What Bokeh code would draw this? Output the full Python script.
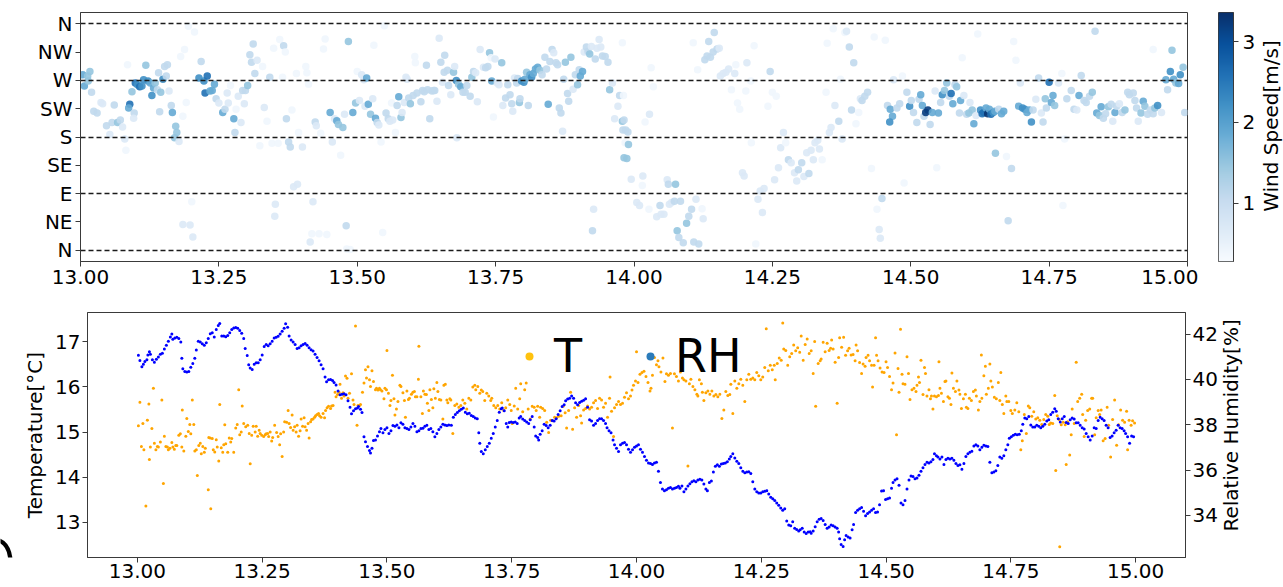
import math
import numpy as np
from bokeh.plotting import figure
from bokeh.models import (Range1d, LinearAxis, FixedTicker, LinearColorMapper,
                          ColumnDataSource, Legend, LegendItem, NumeralTickFormatter)
from bokeh.core.properties import value
from bokeh.layouts import column, row
from bokeh.palettes import Blues256
from bokeh.embed import file_html
from bokeh.resources import INLINE

FONT = "DejaVu Sans"

# ---------------- wind data (time [h], direction [deg], speed [m/s]) ----------------
wind_time = [
    13.004, 13.013, 13.007, 13.017, 13.014, 13.020, 13.024, 13.030, 13.037, 13.040,
    13.047, 13.053, 13.057, 13.061, 13.067, 13.072, 13.076, 13.080, 13.082, 13.085,
    13.089, 13.087, 13.093, 13.097, 13.096, 13.099, 13.103, 13.107, 13.111, 13.114,
    13.118, 13.122, 13.126, 13.129, 13.132, 13.135, 13.139, 13.141, 13.143, 13.145,
    13.149, 13.152, 13.155, 13.157, 13.160, 13.164, 13.166, 13.172, 13.174, 13.170,
    13.178, 13.185, 13.181, 13.188, 13.191, 13.195, 13.206, 13.201, 13.185, 13.198,
    13.203, 13.214, 13.218, 13.223, 13.225, 13.229, 13.234, 13.238, 13.242, 13.245,
    13.250, 13.257, 13.261, 13.265, 13.267, 13.271, 13.277, 13.279, 13.281, 13.285,
    13.290, 13.293, 13.296, 13.298, 13.302, 13.306, 13.309, 13.312, 13.315, 13.319,
    13.324, 13.329, 13.332, 13.337, 13.342, 13.346, 13.349, 13.352, 13.351, 13.357,
    13.360, 13.365, 13.367, 13.370, 13.372, 13.376, 13.379, 13.382, 13.385, 13.392,
    13.390, 13.394, 13.401, 13.407, 13.409, 13.412, 13.420, 13.415, 13.418, 13.424,
    13.426, 13.431, 13.434, 13.439, 13.442, 13.445, 13.451, 13.455, 13.459, 13.463,
    13.466, 13.470, 13.474, 13.477, 13.480, 13.484, 13.481, 13.487, 13.492, 13.497,
    13.500, 13.504, 13.508, 13.512, 13.514, 13.517, 13.520, 13.524, 13.528, 13.530,
    13.533, 13.536, 13.539, 13.543, 13.546, 13.549, 13.552, 13.556, 13.559, 13.562,
    13.564, 13.569, 13.572, 13.575, 13.579, 13.581, 13.585, 13.588, 13.590, 13.593,
    13.596, 13.601, 13.604, 13.605, 13.608, 13.615, 13.618, 13.621, 13.625, 13.627,
    13.631, 13.635, 13.638, 13.640, 13.644, 13.648, 13.651, 13.654, 13.657, 13.658,
    13.663, 13.665, 13.669, 13.674, 13.676, 13.679, 13.680, 13.683, 13.687, 13.691,
    13.695, 13.698, 13.704, 13.707, 13.710, 13.714, 13.717, 13.722, 13.728, 13.732,
    13.736, 13.739, 13.742, 13.743, 13.746, 13.749, 13.753, 13.756, 13.761, 13.763,
    13.768, 13.772, 13.776, 13.779, 13.781, 13.784, 13.788, 13.790, 13.793, 13.794,
    13.797, 13.801, 13.803, 13.806, 13.809, 13.812, 13.815, 13.818, 13.822, 13.826,
    13.830, 13.834, 13.839, 13.842, 13.845, 13.848, 13.852, 13.855, 13.859, 13.862,
    13.865, 13.868, 13.871, 13.873, 13.876, 13.880, 13.882, 13.886, 13.890, 13.894,
    13.898, 13.901, 13.903, 13.907, 13.910, 13.914, 13.917, 13.920, 13.923, 13.927,
    13.925, 13.930, 13.933, 13.937, 13.940, 13.943, 13.948, 13.953, 13.956, 13.961,
    13.965, 13.971, 13.974, 13.979, 13.980, 13.982, 13.984,
    13.979, 13.981, 13.982, 13.985, 13.989, 13.990, 13.987, 13.995, 14.005, 14.010,
    14.016, 14.015, 14.020, 14.028, 14.027, 14.031, 14.035, 14.041, 14.047, 14.049,
    14.054, 14.060, 14.062, 14.064, 14.068, 14.073, 14.075, 14.078, 14.081, 14.084,
    14.089, 14.095, 14.099, 14.104, 14.108, 14.112, 14.117, 14.123, 14.125, 14.115,
    14.107, 14.128, 14.132, 14.135, 14.138, 14.143, 14.145, 14.150, 14.154, 14.156,
    14.161, 14.166, 14.171, 14.176, 14.182, 14.184, 14.187, 14.191, 14.196, 14.199,
    14.202, 14.204, 14.211, 14.212, 14.217, 14.220, 14.224, 14.228, 14.232, 14.235,
    14.242, 14.246, 14.250, 14.254, 14.257, 14.261, 14.265, 14.270, 14.274, 14.279,
    14.284, 14.290, 14.294, 14.297, 14.303, 14.307, 14.312, 14.316, 14.320, 14.324,
    14.327, 14.332, 14.335, 14.340, 14.347, 14.349, 14.353, 14.356, 14.360, 14.363,
    14.370, 14.373, 14.376, 14.381, 14.384, 14.389, 14.393, 14.397, 14.401, 14.406,
    14.409, 14.412, 14.417, 14.422, 14.429, 14.434, 14.439, 14.443, 14.445, 14.448,
    14.454, 14.458, 14.463, 14.467, 14.462, 14.469, 14.475, 14.480, 14.485, 14.488,
    14.493, 14.498, 14.501, 14.505, 14.511, 14.515, 14.518, 14.521, 14.524, 14.527,
    14.531, 14.535, 14.539, 14.544, 14.547, 14.550, 14.554, 14.557, 14.561, 14.565,
    14.570, 14.573, 14.576, 14.580, 14.583, 14.588, 14.590, 14.593, 14.596, 14.601,
    14.605, 14.607, 14.611, 14.614, 14.618, 14.621, 14.626, 14.629, 14.632, 14.636,
    14.639, 14.642, 14.645, 14.649, 14.652, 14.653, 14.659, 14.664, 14.668, 14.673,
    14.676, 14.682, 14.686, 14.690, 14.695, 14.698, 14.702, 14.706, 14.710, 14.714,
    14.718, 14.721, 14.726, 14.731, 14.736, 14.739, 14.743, 14.745, 14.750, 14.754,
    14.757, 14.760, 14.767, 14.773, 14.775, 14.778, 14.782, 14.790, 14.795, 14.800,
    14.804, 14.808, 14.813, 14.817, 14.823, 14.828, 14.833, 14.836, 14.841, 14.844,
    14.848, 14.852, 14.857, 14.862, 14.865, 14.869, 14.872, 14.877, 14.882, 14.887,
    14.892, 14.895, 14.902, 14.905, 14.908, 14.911, 14.916, 14.920, 14.923, 14.928,
    14.933, 14.938, 14.941, 14.946, 14.953, 14.938, 14.961, 14.964, 14.969, 14.972,
    14.975, 14.979, 14.984, 14.987, 14.992, 14.995,
]
wind_dir = [
    279, 277, 261, 284, 269, 251, 221, 218, 235, 233,
    198, 184, 203, 231, 203, 207, 196, 177, 159, 295,
    232, 226, 252, 218, 210, 266, 263, 260, 261, 271,
    294, 269, 266, 246, 258, 266, 255, 282, 220, 251,
    272, 292, 277, 295, 253, 230, 219, 197, 187, 179,
    173, 213, 308, 319, 235, 356, 347, 77, 41, 40,
    21, 274, 300, 269, 250, 277, 253, 254, 264, 241,
    234, 219, 224, 250, 234, 262, 209, 187, 224, 245,
    203, 254, 233, 254, 262, 311, 299, 328, 281, 302,
    166, 292, 227, 205, 275, 170, 321, 73, 54, 170,
    335, 275, 325, 315, 209, 172, 164, 223, 101, 105,
    281, 187, 164, 292, 282, 264, 77, 13, 26, 204,
    198, 26, 186, 320, 336, 25, 219, 172, 209, 206,
    200, 151, 195, 216, 39, 332, 2, 1, 219, 234,
    284, 238, 279, 271, 229, 274, 232, 216, 241, 326,
    210, 203, 199, 172, 28, 357, 218, 209, 205, 234,
    207, 187, 230, 244, 211, 219, 235, 275, 272, 242,
    233, 246, 308, 298, 250, 236, 254, 252, 294, 255,
    209, 253, 254, 254, 237, 337, 299, 267, 283, 310,
    286, 262, 247, 283, 292, 270, 179, 264, 260, 251,
    251, 262, 245, 275, 284, 282, 236, 319, 291, 290,
    292, 314, 306, 269, 212, 304, 266, 263, 298, 230,
    242, 263, 247, 233, 221, 274, 266, 273, 235, 241,
    269, 267, 272, 283, 230, 279, 275, 281, 288, 291,
    286, 279, 307, 288, 232, 300, 319, 314, 298, 295,
    226, 218, 189, 272, 299, 249, 237, 307, 256, 279,
    263, 287, 277, 284, 315, 323, 316, 312, 324, 65,
    31, 304, 321, 335, 323, 309, 308, 299, 255, 266,
    209, 229, 246, 205, 191, 147, 171,
    330, 246, 207, 191, 188, 168, 146, 113, 76, 71,
    118, 103, 204, 216, 65, 290, 260, 53, 71, 57,
    57, 112, 105, 73, 76, 78, 105, 31, 20, 78,
    12, 43, 54, 65, 13, 81, 10, 66, 50, 287,
    330, 303, 309, 332, 307, 315, 346, 320, 321, 277,
    281, 283, 288, 255, 281, 295, 234, 224, 123, 118,
    253, 298, 269, 171, 325, 10, 81, 94, 60, 98,
    229, 284, 251, 112, 245, 131, 163, 187, 171, 144,
    139, 123, 110, 128, 139, 117, 155, 122, 159, 144,
    171, 175, 161, 144, 251, 329, 187, 195, 352, 230,
    205, 272, 177, 346, 348, 323, 223, 298, 201, 219,
    241, 238, 245, 251, 130, 339, 65, 33, 19, 82,
    334, 230, 224, 213, 204, 271, 226, 233, 277, 107,
    251, 229, 238, 219, 203, 240, 247, 230, 213, 219,
    223, 200, 219, 253, 131, 218, 235, 247, 254, 266,
    245, 249, 233, 263, 260, 218, 238, 306, 246, 216,
    218, 235, 223, 201, 214, 344, 223, 217, 219, 226,
    217, 224, 216, 219, 221, 154, 224, 217, 221, 149,
    47, 130, 332, 302, 229, 266, 226, 224, 219, 223,
    204, 223, 240, 274, 218, 204, 241, 226, 267, 235,
    246, 230, 266, 281, 71, 177, 241, 254, 224, 223,
    246, 278, 238, 235, 245, 251, 348, 218, 214, 228,
    210, 217, 228, 232, 205, 219, 229, 233, 219, 223,
    251, 247, 250, 238, 226, 205, 218, 237, 229, 216,
    223, 217, 226, 230, 219, 319, 271, 255, 284, 318,
    272, 266, 265, 279, 291, 219,
]
wind_speed = [
    1.88, 1.5, 1.88, 1.5, 1.5, 1.1, 1.1, 1.1, 0.72, 0.72,
    1.1, 0.72, 1.1, 1.1, 1.5, 1.1, 0.72, 0.72, 0.4, 0.4,
    2.6, 1.88, 1.5, 1.1, 0.72, 2.6, 2.22, 2.6, 2.22, 2.22,
    1.5, 2.22, 1.88, 2.22, 1.88, 1.5, 1.1, 1.1, 1.1, 1.5,
    2.22, 1.1, 1.1, 1.1, 0.72, 1.1, 1.88, 1.5, 1.5, 1.5,
    0.72, 0.4, 0.4, 0.4, 0.4, 0.4, 0.4, 0.4, 0.72, 0.72,
    0.72, 2.22, 1.1, 2.22, 2.6, 2.6, 1.88, 1.88, 1.88, 1.1,
    0.72, 1.88, 1.1, 0.72, 0.72, 0.4, 1.88, 1.1, 0.4, 0.72,
    0.72, 1.1, 0.72, 1.1, 1.5, 1.1, 1.1, 1.1, 1.1, 0.72,
    0.4, 0.4, 0.72, 0.4, 1.1, 0.4, 0.4, 0.72, 0.72, 0.4,
    0.4, 0.4, 1.1, 0.4, 1.1, 1.1, 1.1, 0.4, 0.72, 0.72,
    0.4, 0.4, 0.72, 0.4, 0.4, 0.4, 0.72, 0.72, 0.4, 1.1,
    0.72, 0.4, 0.4, 0.4, 0.4, 0.4, 1.88, 0.72, 0.72, 1.88,
    1.5, 0.4, 1.5, 0.72, 1.1, 1.5, 0.4, 0.4, 1.88, 1.5,
    0.4, 0.72, 0.72, 0.72, 0.72, 1.88, 1.88, 1.5, 0.72, 0.4,
    1.88, 1.1, 0.72, 0.4, 0.4, 0.4, 1.1, 1.1, 0.72, 0.4,
    0.72, 0.4, 1.1, 1.88, 1.5, 0.72, 0.72, 0.72, 0.72, 1.1,
    1.5, 1.1, 0.4, 0.4, 1.1, 1.1, 1.1, 1.1, 1.1, 1.1,
    1.1, 1.1, 1.1, 1.1, 0.72, 0.72, 1.1, 0.72, 1.1, 1.1,
    1.1, 1.1, 0.72, 1.5, 0.72, 2.22, 0.72, 1.5, 1.88, 1.1,
    1.1, 1.1, 1.1, 1.5, 1.1, 0.72, 0.72, 0.72, 0.72, 1.1,
    1.1, 1.5, 0.4, 1.88, 0.4, 0.72, 0.72, 0.72, 1.5, 0.72,
    1.1, 1.1, 1.1, 1.1, 0.72, 0.72, 1.1, 1.1, 1.5, 1.1,
    2.22, 2.22, 1.88, 1.5, 1.1, 1.88, 2.22, 1.88, 1.88, 1.88,
    1.5, 1.1, 1.1, 1.1, 1.88, 1.1, 1.1, 0.72, 1.1, 1.1,
    1.1, 1.1, 0.72, 1.1, 1.5, 1.1, 1.1, 1.5, 0.72, 1.1,
    1.5, 1.1, 1.88, 1.88, 0.72, 1.1, 1.1, 1.5, 0.72, 0.72,
    1.1, 1.1, 0.72, 0.72, 0.72, 1.1, 1.1, 1.1, 1.5, 0.72,
    0.72, 0.72, 1.1, 1.5, 1.1, 1.5, 0.4,
    0.4, 0.4, 1.1, 1.1, 1.1, 1.5, 1.5, 0.72, 0.72, 0.72,
    0.72, 0.4, 0.4, 0.72, 0.4, 0.4, 0.4, 0.72, 1.1, 0.72,
    0.72, 0.72, 1.1, 0.72, 0.72, 1.1, 1.5, 1.5, 1.1, 1.1,
    1.1, 1.5, 1.1, 1.1, 1.1, 0.72, 1.1, 0.4, 0.72, 0.4,
    0.4, 1.1, 1.1, 1.1, 1.1, 1.1, 1.1, 1.1, 0.72, 0.72,
    0.72, 0.72, 0.72, 0.4, 0.72, 0.4, 0.4, 0.4, 0.72, 0.72,
    0.4, 0.72, 0.4, 0.4, 0.4, 0.4, 0.72, 0.72, 0.72, 0.72,
    0.4, 1.1, 0.4, 0.72, 0.4, 0.72, 0.72, 0.72, 0.4, 1.1,
    0.72, 0.72, 0.72, 1.1, 1.1, 0.72, 0.72, 1.1, 0.72, 0.72,
    0.72, 0.72, 0.72, 0.4, 0.4, 0.4, 0.72, 0.72, 0.4, 0.72,
    1.1, 0.4, 0.72, 0.4, 0.72, 1.1, 1.1, 1.1, 0.4, 0.4,
    0.72, 1.1, 1.1, 1.1, 0.4, 0.4, 0.4, 0.72, 0.72, 1.1,
    0.4, 1.1, 1.88, 1.88, 2.22, 0.72, 1.1, 1.1, 0.4, 0.4,
    1.1, 2.22, 1.1, 1.1, 1.1, 1.1, 1.88, 1.88, 1.1, 3.2,
    3.2, 1.1, 1.88, 0.72, 0.4, 1.88, 1.1, 2.22, 1.5, 1.5,
    1.1, 2.6, 1.88, 1.1, 1.5, 1.1, 1.88, 0.4, 0.72, 1.1,
    1.5, 0.72, 1.5, 1.88, 0.72, 0.4, 2.22, 2.6, 2.6, 1.88,
    3.3, 1.88, 2.6, 2.22, 1.88, 1.5, 1.1, 1.88, 1.88, 0.4,
    1.1, 1.1, 0.4, 0.4, 1.88, 0.72, 2.22, 2.22, 1.88, 1.88,
    2.22, 1.1, 0.72, 1.1, 0.72, 1.1, 1.5, 1.1, 2.6, 1.88,
    1.88, 1.5, 0.72, 0.4, 0.4, 0.4, 1.1, 1.1, 1.1, 0.72,
    1.88, 1.1, 1.1, 1.1, 1.1, 1.5, 1.1, 1.88, 1.5, 1.88,
    1.1, 1.1, 1.5, 1.1, 0.72, 1.88, 1.1, 0.72, 1.1, 1.5,
    1.1, 1.1, 1.1, 1.1, 1.1, 0.72, 1.5, 1.88, 1.5, 1.1,
    1.1, 1.1, 1.5, 2.22, 0.72, 0.4, 1.88, 1.1, 2.22, 1.5,
    1.88, 1.5, 1.88, 2.22, 1.5, 1.1,
]

# ---------------- relative humidity (time [h], RH [%]) ----------------
rh_time = [
    13.002, 13.005, 13.009, 13.012, 13.015, 13.019, 13.021, 13.024, 13.026, 13.030,
    13.034, 13.038, 13.042, 13.046, 13.050, 13.054, 13.058, 13.062, 13.066, 13.069,
    13.071, 13.075, 13.079, 13.083, 13.087, 13.089, 13.091, 13.095, 13.099, 13.103,
    13.107, 13.111, 13.115, 13.118, 13.122, 13.126, 13.130, 13.134, 13.138, 13.142,
    13.146, 13.150, 13.154, 13.158, 13.162, 13.165, 13.169, 13.173, 13.177, 13.181,
    13.185, 13.189, 13.193, 13.197, 13.201, 13.205, 13.209, 13.213, 13.216, 13.220,
    13.223, 13.226, 13.230, 13.234, 13.238, 13.242, 13.246, 13.250, 13.254, 13.258,
    13.262, 13.266, 13.270, 13.274, 13.278, 13.282, 13.286, 13.290, 13.294, 13.297,
    13.301, 13.304, 13.308, 13.312, 13.316, 13.320, 13.324, 13.328, 13.332, 13.336,
    13.340, 13.344, 13.348, 13.352, 13.356, 13.360, 13.364, 13.368, 13.372, 13.376,
    13.379, 13.383, 13.387, 13.391, 13.394, 13.398, 13.402, 13.406, 13.410, 13.414,
    13.418, 13.422, 13.426, 13.429, 13.433, 13.437, 13.441, 13.443, 13.447, 13.450,
    13.454, 13.457, 13.461, 13.465, 13.467, 13.470, 13.473, 13.477, 13.481, 13.485,
    13.488, 13.492, 13.496, 13.500, 13.504, 13.508, 13.512, 13.516, 13.520, 13.524,
    13.528, 13.532, 13.536, 13.540, 13.544, 13.548, 13.552, 13.556, 13.560, 13.564,
    13.568, 13.572, 13.576, 13.580, 13.584, 13.588, 13.592, 13.596, 13.600, 13.604,
    13.608, 13.612, 13.616, 13.620, 13.624,
    13.629, 13.633, 13.637, 13.641, 13.645, 13.649, 13.653, 13.657, 13.661, 13.665,
    13.669, 13.673, 13.677, 13.681, 13.684, 13.686, 13.689, 13.693, 13.697, 13.701,
    13.705, 13.709, 13.713, 13.717, 13.721, 13.725, 13.729, 13.731, 13.735, 13.739,
    13.742, 13.745, 13.749, 13.753, 13.757, 13.761, 13.765, 13.768, 13.772, 13.776,
    13.780, 13.784, 13.787, 13.791, 13.795, 13.798, 13.802, 13.804, 13.807, 13.811,
    13.815, 13.819, 13.823, 13.827, 13.831, 13.835, 13.839, 13.843, 13.847, 13.851,
    13.855, 13.858, 13.862, 13.866, 13.870, 13.874, 13.878, 13.882, 13.886, 13.890,
    13.894, 13.898, 13.902, 13.906, 13.910, 13.914, 13.918, 13.922, 13.926, 13.930,
    13.934, 13.938, 13.941, 13.945, 13.949, 13.953, 13.956, 13.960, 13.964, 13.968,
    13.972, 13.976, 13.980, 13.984, 13.988, 13.992, 13.996, 14.000, 14.004, 14.008,
    14.012, 14.016, 14.020, 14.024, 14.028, 14.032, 14.036, 14.040, 14.044, 14.048,
    14.052, 14.056, 14.060, 14.064, 14.068, 14.072, 14.076, 14.080, 14.084, 14.087,
    14.091, 14.095, 14.099, 14.103, 14.107, 14.111, 14.115, 14.119, 14.123, 14.127,
    14.131, 14.135, 14.139, 14.142, 14.146, 14.150, 14.154, 14.158, 14.162, 14.166,
    14.170, 14.174, 14.178, 14.182, 14.186, 14.189, 14.193, 14.197, 14.201, 14.205,
    14.209, 14.213, 14.217, 14.221, 14.225, 14.229, 14.233, 14.237, 14.241, 14.245,
    14.249, 14.253, 14.257, 14.261, 14.265, 14.269, 14.273, 14.277, 14.281, 14.285,
    14.289, 14.293, 14.297, 14.301, 14.305, 14.309, 14.313, 14.317, 14.321, 14.325,
    14.328, 14.332, 14.336, 14.340, 14.344, 14.348,
    14.350, 14.354, 14.358, 14.362, 14.366, 14.370, 14.374, 14.378, 14.382, 14.386,
    14.390, 14.394, 14.398, 14.402, 14.405, 14.407, 14.410, 14.414, 14.417, 14.420,
    14.424, 14.428, 14.432, 14.435, 14.439, 14.443, 14.447, 14.451, 14.455, 14.459,
    14.463, 14.467, 14.471, 14.475, 14.479, 14.483, 14.487, 14.491, 14.495, 14.499,
    14.503, 14.507, 14.511, 14.514, 14.518, 14.522, 14.526, 14.530, 14.534, 14.538,
    14.542, 14.546, 14.550, 14.554, 14.558, 14.562, 14.566, 14.570, 14.574, 14.578,
    14.582, 14.586, 14.590, 14.594, 14.597, 14.601, 14.604, 14.608, 14.612, 14.616,
    14.620, 14.624, 14.628, 14.632, 14.636, 14.640, 14.644, 14.648, 14.652, 14.656,
    14.660, 14.664, 14.668, 14.672, 14.676, 14.680, 14.684, 14.688, 14.692, 14.696,
    14.700, 14.704, 14.708, 14.712, 14.716, 14.720, 14.724, 14.728, 14.732, 14.736,
    14.740, 14.744, 14.747, 14.751, 14.755, 14.759, 14.763, 14.767, 14.771, 14.774,
    14.778, 14.782, 14.786, 14.790, 14.794, 14.798, 14.802, 14.806, 14.810, 14.814,
    14.818, 14.822, 14.826, 14.830, 14.834, 14.838, 14.841, 14.845, 14.849, 14.853,
    14.857, 14.861, 14.865, 14.869, 14.873, 14.877, 14.881, 14.885, 14.889, 14.893,
    14.897, 14.901, 14.905, 14.909, 14.913, 14.917, 14.921, 14.925, 14.929, 14.933,
    14.937, 14.941, 14.945, 14.949, 14.953, 14.957, 14.961, 14.965, 14.969, 14.973,
    14.977, 14.980, 14.984, 14.988, 14.992, 14.996,
]
rel_humidity = [
    41.06, 40.83, 40.56, 40.67, 40.79, 40.86, 41.08, 41.22, 41.11, 40.86,
    40.76, 40.89, 40.99, 41.11, 41.15, 41.34, 41.51, 41.68, 41.87, 42.00,
    41.77, 41.83, 41.86, 41.80, 41.65, 40.93, 40.47, 40.35, 40.33, 40.35,
    40.53, 40.70, 40.93, 41.29, 41.68, 41.65, 41.57, 41.51, 41.62, 41.80,
    42.01, 42.06, 41.87, 42.20, 42.38, 42.46, 41.91, 41.91, 41.88, 41.94,
    42.06, 42.20, 42.27, 42.29, 42.26, 42.16, 42.03, 41.80, 41.36, 41.05,
    40.64, 40.50, 40.43, 40.67, 40.73, 40.73, 40.86, 41.08, 41.45, 41.54,
    41.48, 41.57, 41.68, 41.83, 41.86, 41.90, 42.00, 42.12, 42.26, 42.45,
    42.30, 41.91, 41.74, 41.65, 41.54, 41.36, 41.39, 41.48, 41.54, 41.58,
    41.51, 41.39, 41.31, 41.25, 41.11, 40.96, 40.82, 40.64, 40.47, 40.10,
    39.89, 39.98, 39.99, 39.95, 39.86, 39.75, 39.49, 39.32, 39.34, 39.37,
    39.32, 39.06, 38.77, 38.48, 38.62, 38.70, 38.74, 38.80, 38.68, 38.54,
    37.47, 37.25, 37.04, 36.86, 36.75, 36.96, 37.30, 37.32, 37.50, 37.69,
    37.83, 37.64, 37.79, 37.87, 37.61, 37.73, 37.96, 37.93, 37.99, 37.87,
    38.08, 38.02, 37.87, 37.83, 37.79, 37.90, 38.05, 37.93, 37.69, 37.73,
    37.83, 37.84, 37.93, 37.97, 37.79, 37.83, 37.69, 37.47, 37.61, 37.79,
    37.90, 38.02, 37.99, 37.96, 37.99,
    37.97, 38.33, 38.45, 38.54, 38.62, 38.68, 38.74, 38.55, 38.48, 38.50,
    38.41, 38.36, 38.30, 38.26, 37.64, 37.18, 36.82, 36.72, 36.89, 37.04,
    37.18, 37.40, 37.61, 37.90, 38.19, 38.55, 38.70, 38.74, 38.62, 38.05,
    37.90, 38.10, 38.12, 38.10, 38.12, 38.05, 38.30, 38.36, 38.25, 38.19,
    38.12, 38.05, 38.22, 38.36, 37.90, 37.50, 37.44, 37.32, 37.58, 37.73,
    38.02, 37.96, 37.87, 37.97, 38.19, 38.16, 38.26, 38.45, 38.62, 38.80,
    38.88, 39.06, 39.13, 39.17, 39.27, 39.17, 38.97, 38.88, 38.98, 39.03,
    39.08, 39.14, 38.77, 38.22, 38.16, 37.97, 38.05, 38.19, 38.26, 38.26,
    38.19, 38.05, 37.87, 37.73, 37.64, 37.32, 37.11, 36.96, 36.82, 37.11,
    37.18, 37.21, 37.11, 36.92, 36.78, 36.89, 37.01, 37.06, 37.11, 36.92,
    36.78, 36.60, 36.43, 36.31, 36.29, 36.24, 36.31, 36.34, 35.95, 35.45,
    35.16, 35.09, 35.13, 35.19, 35.23, 35.16, 35.19, 35.23, 35.28, 35.19,
    35.30, 35.04, 35.16, 35.30, 35.39, 35.48, 35.53, 35.48, 35.56, 35.59,
    35.56, 35.38, 35.16, 35.09, 35.45, 35.52, 35.91, 36.17, 36.23, 36.17,
    36.26, 36.29, 36.31, 36.37, 36.49, 36.60, 36.72, 36.53, 36.39, 36.29,
    36.10, 35.95, 35.88, 35.91, 35.92, 35.85, 35.48, 35.16, 35.04, 34.99,
    34.99, 35.04, 35.06, 35.09, 34.94, 34.80, 34.73, 34.65, 34.55, 34.44,
    34.32, 34.22, 34.29, 33.75, 33.57, 33.54, 33.72, 33.43, 33.37, 33.31,
    33.36, 33.43, 33.26, 33.20, 33.26, 33.28,
    33.21, 33.31, 33.50, 33.72, 33.83, 33.86, 33.77, 33.60, 33.43, 33.49,
    33.57, 33.54, 33.49, 33.43, 33.26, 32.97, 32.71, 32.63, 32.92, 33.11,
    33.05, 33.00, 33.36, 33.60, 34.12, 34.22, 34.29, 34.35, 34.18, 33.98,
    34.08, 34.15, 34.22, 34.29, 34.12, 34.15, 34.47, 35.07, 35.09, 34.70,
    34.73, 34.76, 35.19, 35.45, 35.56, 35.62, 35.33, 34.55, 34.47, 34.65,
    35.16, 35.56, 35.74, 35.71, 35.62, 35.65, 35.77, 35.95, 36.10, 36.24,
    36.34, 36.31, 36.37, 36.46, 36.72, 36.63, 36.57, 36.49, 36.57, 36.24,
    36.46, 36.52, 36.49, 36.52, 36.43, 36.29, 36.20, 36.23, 36.03, 36.29,
    36.60, 36.72, 36.78, 36.83, 37.06, 37.11, 37.06, 36.89, 37.01, 37.09,
    37.06, 37.04, 36.34, 35.88, 35.91, 35.97, 36.20, 36.57, 36.52, 36.63,
    36.89, 37.11, 37.40, 37.47, 37.53, 37.58, 37.56, 37.58, 37.73, 38.02,
    38.30, 38.26, 38.36, 37.99, 37.90, 37.90, 37.97, 37.93, 37.87, 37.93,
    38.02, 38.16, 38.22, 38.45, 38.55, 38.70, 38.59, 38.26, 38.12, 38.26,
    38.36, 38.10, 38.05, 38.22, 38.30, 38.25, 38.08, 38.08, 37.97, 37.87,
    37.81, 37.61, 37.47, 37.32, 37.50, 37.87, 37.83, 38.19, 38.33, 38.26,
    38.19, 37.97, 37.87, 37.44, 37.50, 37.64, 37.76, 37.97, 37.87, 37.83,
    37.73, 37.61, 37.47, 37.18, 37.50, 37.47,
]

# ---------------- temperature (time [h], T [deg C]) ----------------
temp_time = [
    13.002, 13.005, 13.008, 13.011, 13.013, 13.017, 13.020, 13.023, 13.024, 13.026,
    13.029, 13.032, 13.034, 13.037, 13.040, 13.042, 13.046, 13.049, 13.052, 13.054,
    13.057, 13.060, 13.062, 13.065, 13.069, 13.071, 13.074, 13.077, 13.079, 13.083,
    13.086, 13.089, 13.090, 13.093, 13.097, 13.099, 13.102, 13.105, 13.107, 13.110,
    13.113, 13.115, 13.118, 13.120, 13.123, 13.126, 13.128, 13.131, 13.134, 13.136,
    13.142, 13.143, 13.146, 13.147, 13.150, 13.152, 13.155, 13.158, 13.160, 13.163,
    13.165, 13.168, 13.171, 13.173, 13.175, 13.177, 13.181, 13.184, 13.187, 13.189,
    13.193, 13.197, 13.200, 13.203, 13.205, 13.208, 13.210, 13.213, 13.217, 13.221,
    13.224, 13.226, 13.229, 13.232, 13.236, 13.238, 13.241, 13.244, 13.246, 13.249,
    13.253, 13.256, 13.258, 13.261, 13.263, 13.266, 13.269, 13.271, 13.275, 13.279,
    13.282, 13.285, 13.287, 13.290, 13.293, 13.295, 13.299, 13.302, 13.304, 13.307,
    13.310, 13.312, 13.315, 13.318, 13.320, 13.323, 13.326, 13.328, 13.331, 13.334,
    13.336, 13.339, 13.342, 13.344, 13.347, 13.349, 13.352, 13.355, 13.357, 13.360,
    13.363, 13.365, 13.368, 13.372, 13.375, 13.377, 13.380, 13.383, 13.387, 13.389,
    13.392, 13.396, 13.398, 13.401, 13.404, 13.406, 13.409, 13.412, 13.414, 13.417,
    13.420, 13.422, 13.425, 13.429, 13.432, 13.434, 13.437, 13.440, 13.442, 13.445,
    13.447, 13.451, 13.454, 13.457, 13.459, 13.462, 13.465, 13.467, 13.470, 13.473,
    13.477, 13.479, 13.482, 13.485, 13.487, 13.490, 13.494, 13.496, 13.499, 13.500,
    13.503, 13.506, 13.508, 13.511, 13.514, 13.516, 13.519, 13.522, 13.526, 13.528,
    13.532, 13.535, 13.537, 13.540, 13.543, 13.545, 13.549, 13.552, 13.555, 13.557,
    13.560, 13.563, 13.564, 13.568, 13.571, 13.573, 13.576, 13.579, 13.581, 13.584,
    13.586, 13.589, 13.592, 13.594, 13.597, 13.600, 13.602, 13.605, 13.608, 13.612,
    13.614, 13.617, 13.620, 13.622, 13.626,
    13.628, 13.632, 13.636, 13.640, 13.644, 13.648, 13.652, 13.656, 13.660, 13.664,
    13.668, 13.672, 13.676, 13.678, 13.682, 13.686, 13.689, 13.692, 13.696, 13.700,
    13.704, 13.708, 13.710, 13.714, 13.718, 13.722, 13.726, 13.730, 13.734, 13.738,
    13.742, 13.746, 13.749, 13.751, 13.755, 13.758, 13.762, 13.766, 13.768, 13.772,
    13.776, 13.779, 13.783, 13.787, 13.791, 13.795, 13.799, 13.802, 13.806, 13.808,
    13.812, 13.816, 13.820, 13.824, 13.828, 13.832, 13.836, 13.840, 13.844, 13.849,
    13.853, 13.857, 13.860, 13.864, 13.868, 13.872, 13.876, 13.880, 13.884, 13.888,
    13.890, 13.894, 13.898, 13.902, 13.906, 13.910, 13.914, 13.918, 13.922, 13.926,
    13.930, 13.934, 13.938, 13.942, 13.946, 13.947, 13.950, 13.954, 13.956, 13.960,
    13.964, 13.968, 13.972, 13.976, 13.980, 13.984, 13.988, 13.991, 13.994, 13.998,
    14.000, 14.003, 14.007, 14.011, 14.015, 14.019, 14.023, 14.027, 14.029, 14.032,
    14.036, 14.040, 14.043, 14.045, 14.049, 14.053, 14.057, 14.060, 14.064, 14.068,
    14.072, 14.076, 14.080, 14.084, 14.088, 14.092, 14.095, 14.099, 14.103, 14.106,
    14.109, 14.113, 14.117, 14.121, 14.123, 14.126, 14.130, 14.132, 14.135, 14.139,
    14.143, 14.147, 14.151, 14.155, 14.159, 14.163, 14.167, 14.171, 14.175, 14.179,
    14.183, 14.187, 14.189, 14.193, 14.197, 14.201, 14.205, 14.209, 14.213, 14.217,
    14.221, 14.225, 14.229, 14.233, 14.237, 14.241, 14.245, 14.249, 14.253, 14.257,
    14.260, 14.264, 14.268, 14.272, 14.276, 14.278, 14.282, 14.286, 14.290, 14.293,
    14.295, 14.299, 14.303, 14.307, 14.311, 14.315, 14.319, 14.323, 14.327, 14.330,
    14.334, 14.338, 14.342, 14.346, 14.359,
    14.350, 14.354, 14.357, 14.364, 14.368, 14.370, 14.374, 14.378, 14.382, 14.386,
    14.389, 14.391, 14.394, 14.398, 14.402, 14.405, 14.407, 14.411, 14.415, 14.419,
    14.423, 14.426, 14.430, 14.434, 14.438, 14.440, 14.443, 14.447, 14.451, 14.454,
    14.458, 14.460, 14.464, 14.467, 14.471, 14.473, 14.476, 14.479, 14.481, 14.484,
    14.488, 14.492, 14.496, 14.500, 14.503, 14.507, 14.511, 14.514, 14.518, 14.521,
    14.524, 14.526, 14.529, 14.532, 14.534, 14.538, 14.542, 14.545, 14.548, 14.552,
    14.556, 14.560, 14.562, 14.565, 14.567, 14.570, 14.574, 14.577, 14.579, 14.582,
    14.586, 14.589, 14.591, 14.594, 14.597, 14.601, 14.605, 14.606, 14.608, 14.611,
    14.615, 14.618, 14.620, 14.624, 14.627, 14.630, 14.632, 14.635, 14.639, 14.642,
    14.646, 14.648, 14.651, 14.655, 14.659, 14.661, 14.664, 14.667, 14.671, 14.675,
    14.679, 14.681, 14.685, 14.688, 14.691, 14.692, 14.696, 14.699, 14.701, 14.705,
    14.708, 14.710, 14.713, 14.717, 14.721, 14.725, 14.728, 14.730, 14.733, 14.736,
    14.740, 14.742, 14.746, 14.750, 14.753, 14.758, 14.762, 14.766, 14.770, 14.773,
    14.777, 14.781, 14.785, 14.788, 14.792, 14.796, 14.800, 14.804, 14.808, 14.812,
    14.816, 14.820, 14.824, 14.827, 14.830, 14.834, 14.838, 14.840, 14.843, 14.847,
    14.848, 14.851, 14.855, 14.859, 14.861, 14.864, 14.868, 14.871, 14.873, 14.877,
    14.881, 14.884, 14.888, 14.892, 14.894, 14.897, 14.900, 14.904, 14.908, 14.912,
    14.914, 14.918, 14.921, 14.925, 14.928, 14.931, 14.935, 14.939, 14.943, 14.946,
    14.950, 14.954, 14.958, 14.962, 14.966, 14.970, 14.974, 14.978, 14.982, 14.984,
    14.987, 14.991, 14.994, 14.998,
]
temperature = [
    15.14, 15.66, 14.68, 15.19, 14.61, 13.36, 15.26, 15.62, 14.39, 14.67,
    15.08, 15.97, 14.75, 14.61, 14.68, 14.67, 14.78, 15.71, 13.86, 14.91,
    14.68, 14.67, 14.61, 14.64, 14.77, 14.67, 14.62, 14.70, 14.70, 14.93,
    14.96, 14.67, 15.49, 14.58, 14.91, 15.30, 15.01, 15.17, 14.96, 15.71,
    15.17, 14.58, 14.61, 14.04, 14.70, 14.75, 14.52, 14.68, 14.55, 14.64,
    13.72, 14.88, 14.87, 13.30, 14.86, 14.61, 14.56, 14.83, 14.67, 14.36,
    15.61, 14.65, 14.55, 14.72, 15.16, 14.74, 14.55, 14.87, 14.78, 14.86,
    14.55, 15.09, 15.17, 15.94, 14.94, 15.00, 15.58, 15.19, 15.12, 15.15,
    14.97, 14.30, 14.93, 15.13, 15.00, 15.13, 14.91, 15.04, 14.97, 14.93,
    14.90, 14.94, 14.96, 14.97, 14.90, 15.00, 14.80, 14.88, 15.15, 14.99,
    14.90, 14.72, 14.96, 14.46, 15.00, 15.23, 15.22, 15.48, 15.19, 15.10,
    15.38, 15.04, 15.12, 15.00, 15.15, 14.91, 15.03, 15.29, 15.13, 15.32,
    15.12, 15.04, 15.19, 14.87, 15.23, 15.28, 15.29, 15.33, 15.36, 15.39,
    15.41, 15.36, 15.33, 15.41, 15.32, 15.48, 15.54, 15.57, 15.52, 15.58,
    15.59, 15.88, 15.78, 15.83, 15.88, 16.06, 15.75, 15.87, 15.80, 16.24,
    16.19, 15.75, 15.86, 16.29, 15.71, 15.61, 17.35, 15.15, 15.59, 15.59,
    15.61, 15.88, 16.09, 16.38, 16.20, 16.45, 16.16, 16.01, 16.36, 16.12,
    15.94, 15.97, 15.93, 15.97, 15.94, 15.91, 15.74, 15.97, 15.94, 16.81,
    15.86, 15.59, 15.70, 16.26, 15.74, 15.38, 15.51, 15.68, 16.04, 16.01,
    15.87, 15.70, 15.33, 15.91, 15.72, 15.75, 15.84, 15.88, 15.90, 15.78,
    15.78, 16.17, 16.90, 15.78, 15.41, 15.91, 15.84, 15.83, 15.64, 15.48,
    15.94, 15.72, 15.54, 15.96, 15.75, 16.10, 15.90, 15.72, 15.71, 15.29,
    16.04, 16.06, 15.71, 15.65, 15.74,
    15.71, 14.97, 15.59, 15.62, 15.55, 15.59, 15.71, 15.64, 15.51, 15.75,
    15.71, 16.00, 16.04, 15.94, 16.01, 15.86, 15.93, 15.90, 15.70, 15.86,
    15.80, 15.70, 15.75, 15.59, 15.54, 15.59, 15.51, 15.65, 15.48, 15.54,
    15.71, 15.61, 15.48, 15.19, 15.58, 15.97, 15.51, 15.74, 16.07, 15.45,
    15.94, 16.09, 15.51, 15.29, 15.57, 15.55, 15.48, 15.57, 15.33, 15.55,
    15.52, 15.48, 15.22, 14.99, 15.26, 15.25, 15.33, 15.32, 15.35, 15.36,
    15.57, 15.43, 15.09, 15.48, 15.88, 15.06, 15.54, 15.33, 15.59, 15.36,
    15.20, 15.49, 15.52, 15.58, 15.51, 15.55, 15.65, 15.70, 15.52, 15.75,
    15.71, 15.55, 15.64, 15.33, 15.75, 16.22, 15.46, 14.90, 15.54, 15.61,
    15.68, 15.61, 15.64, 15.77, 15.87, 15.74, 15.80, 15.93, 16.04, 16.13,
    16.78, 16.10, 16.28, 16.32, 16.35, 16.23, 16.10, 15.91, 15.97, 16.26,
    16.65, 16.49, 16.58, 16.45, 16.33, 16.64, 16.12, 16.29, 16.26, 16.30,
    15.09, 16.29, 16.23, 16.13, 16.33, 16.20, 16.16, 16.13, 14.25, 16.07,
    16.17, 16.01, 15.94, 15.84, 15.80, 16.16, 16.07, 15.88, 15.70, 15.87,
    15.91, 15.84, 15.91, 15.80, 15.83, 15.78, 15.84, 15.30, 15.49, 15.90,
    15.81, 15.83, 16.06, 15.41, 16.13, 15.97, 16.07, 16.17, 16.04, 15.68,
    16.16, 16.28, 16.17, 16.20, 16.16, 16.32, 16.25, 16.16, 16.22, 16.43,
    17.29, 16.36, 16.48, 16.38, 16.48, 16.16, 16.52, 16.64, 16.59, 17.42,
    16.84, 16.81, 16.48, 16.67, 16.74, 16.93, 16.80, 16.87, 16.77, 17.13,
    16.59, 16.94, 17.06, 16.74, 15.57,
    16.80, 16.30, 17.01, 16.52, 16.58, 16.62, 16.99, 16.78, 16.97, 16.81,
    16.86, 17.04, 16.84, 16.55, 15.64, 16.65, 17.09, 16.88, 17.10, 16.70,
    16.80, 16.86, 16.71, 16.72, 16.58, 16.93, 16.80, 16.54, 16.30, 16.51,
    16.46, 16.65, 16.70, 16.58, 16.48, 16.00, 16.48, 17.09, 16.70, 16.58,
    16.42, 16.33, 16.32, 16.56, 16.43, 16.23, 15.94, 16.09, 16.75, 14.94,
    16.41, 15.88, 17.28, 16.28, 16.07, 16.06, 16.67, 16.30, 15.72, 15.94,
    15.97, 15.90, 16.04, 16.22, 16.10, 16.59, 15.83, 16.43, 16.30, 15.80,
    15.94, 15.74, 15.80, 15.51, 15.80, 15.78, 15.81, 16.56, 15.97, 15.86,
    15.68, 16.12, 16.13, 15.78, 15.75, 15.61, 16.31, 15.97, 15.90, 16.13,
    15.93, 15.84, 15.52, 15.74, 15.84, 15.55, 15.52, 15.75, 15.70, 15.90,
    15.93, 15.80, 15.49, 15.68, 16.71, 15.75, 16.25, 16.46, 15.84, 15.97,
    16.51, 16.13, 16.00, 15.77, 15.74, 16.10, 15.70, 16.32, 15.61, 15.41,
    15.80, 15.68, 15.68, 15.48, 15.41, 15.49, 15.65, 15.45, 14.61, 14.81,
    15.39, 14.97, 15.58, 15.54, 15.35, 15.45, 15.29, 15.32, 15.26, 15.17,
    15.28, 15.39, 15.35, 15.17, 15.20, 15.19, 15.81, 14.15, 15.36, 15.28,
    12.46, 15.16, 15.22, 15.16, 14.28, 15.23, 14.49, 14.94, 15.51, 15.19,
    16.55, 15.68, 15.75, 15.84, 15.39, 14.90, 15.26, 15.48, 15.51, 15.75,
    15.75, 14.94, 15.32, 15.48, 15.39, 15.49, 14.81, 14.86, 15.55, 15.15,
    14.45, 15.28, 15.71, 14.71, 15.16, 15.49, 15.26, 15.22, 15.46, 14.61,
    15.26, 15.15, 15.25, 15.20,
]

# ---------------- axes / ticks ----------------
dir_ticks = [0, 45, 90, 135, 180, 225, 270, 315, 360]
dir_labels = ["N", "NE", "E", "SE", "S", "SW", "W", "NW", "N"]
dir_grid = [0, 90, 180, 270, 360]
time_ticks = [13.0, 13.25, 13.5, 13.75, 14.0, 14.25, 14.5, 14.75, 15.0]
temp_ticks = [13, 14, 15, 16, 17]
rh_ticks = [34, 36, 38, 40, 42]
speed_ticks = [1, 2, 3]
speed_min, speed_max = 0.28, 3.36
series_labels = ["T", "RH"]

mapper = LinearColorMapper(palette=list(reversed(Blues256)), low=speed_min, high=speed_max)

AX = "#3a3a3a"


def style_axis(ax):
    ax.major_label_text_font = FONT
    ax.major_label_text_font_size = "20px"
    ax.major_label_text_color = "black"
    ax.axis_line_color = AX
    ax.axis_line_width = 1
    ax.major_tick_line_color = AX
    ax.major_tick_out = 5
    ax.major_tick_in = 0
    ax.minor_tick_out = 0
    ax.minor_tick_in = 0
    ax.axis_label_text_font = FONT
    ax.axis_label_text_font_style = "normal"
    ax.axis_label_text_font_size = "20px"
    ax.axis_label_text_color = "black"


def style_fig(p):
    p.outline_line_color = AX
    p.outline_line_width = 1
    p.outline_line_alpha = 1
    p.background_fill_color = "white"
    p.border_fill_color = "white"


def text_panel(width, height, text, fx, fy, size="20px", angle=math.pi / 2,
               align="center", baseline="middle"):
    """A bare figure that only holds one piece of text (fx, fy: fractions of the panel)."""
    f = figure(width=width, height=height, x_range=Range1d(0, 1), y_range=Range1d(0, 1),
               x_axis_type=None, y_axis_type=None, output_backend="svg",
               toolbar_location=None, min_border=0)
    f.outline_line_color = None
    f.background_fill_color = "white"
    f.border_fill_color = "white"
    f.text(x=[fx], y=[fy], text=[text], angle=angle, text_align=align,
           text_baseline=baseline, text_font=value(FONT), text_font_size=value(size),
           text_color="black")
    return f


# ---------------- top: wind direction ----------------
wsrc = ColumnDataSource(dict(t=wind_time, d=wind_dir, s=wind_speed))
p1 = figure(width=1198, height=304, x_range=Range1d(13, 15), y_range=Range1d(-18, 378),
            output_backend="svg", toolbar_location=None,
            min_border_left=80, min_border_right=11, min_border_top=12, min_border_bottom=43)
style_fig(p1)
p1.scatter(x="t", y="d", source=wsrc, size=7.5,
           fill_color={"field": "s", "transform": mapper}, line_color=None, fill_alpha=0.9)
p1.xgrid.visible = False
p1.ygrid.ticker = FixedTicker(ticks=dir_grid)
p1.ygrid.grid_line_color = "#1a1a1a"
p1.ygrid.grid_line_dash = "5 3"
p1.ygrid.grid_line_width = 1.3
p1.ygrid.level = "glyph"
p1.yaxis.ticker = FixedTicker(ticks=dir_ticks)
p1.yaxis.major_label_overrides = {t: l for t, l in zip(dir_ticks, dir_labels)}
p1.yaxis.major_label_standoff = 3
p1.xaxis.ticker = FixedTicker(ticks=time_ticks)
p1.xaxis.formatter = NumeralTickFormatter(format="0.00")
p1.xaxis.major_label_standoff = 3
for ax in p1.xaxis + p1.yaxis:
    style_axis(ax)

# ---------------- colour bar ----------------
cb = figure(width=60, height=304, x_range=Range1d(0, 1), y_range=Range1d(speed_min, speed_max),
            y_axis_location="right", output_backend="svg", toolbar_location=None,
            min_border_left=20, min_border_right=24, min_border_top=11, min_border_bottom=38)
style_fig(cb)
grad = np.linspace(speed_min, speed_max, 256).reshape(256, 1)
cb.image(image=[grad], x=0, y=speed_min, dw=1, dh=speed_max - speed_min, color_mapper=mapper)
cb.xaxis.visible = False
cb.grid.visible = False
cb.yaxis.ticker = FixedTicker(ticks=speed_ticks)
cb.yaxis.major_label_standoff = 4
for ax in cb.yaxis:
    style_axis(ax)
cb_title = text_panel(25, 304, "Wind Speed[m/s]", fx=0.5, fy=0.544)

# ---------------- bottom: temperature & RH ----------------
p2 = figure(width=1200, height=283, x_range=Range1d(12.9, 15.1), y_range=Range1d(12.22, 17.65),
            output_backend="svg", toolbar_location=None,
            min_border_left=60, min_border_right=33, min_border_top=8, min_border_bottom=30)
style_fig(p2)
p2.grid.visible = False
p2.extra_y_ranges = {"rh": Range1d(32.14, 42.95)}
p2.scatter(x=temp_time, y=temperature, size=3, color="#FFA500", line_color=None)
p2.scatter(x=rh_time, y=rel_humidity, size=3, color="#0000FF", line_color=None, y_range_name="rh")

# legend swatches (a single undrawn NaN point each, only used for the key)
leg_t = p2.scatter(x=[float("nan")], y=[float("nan")], size=8, color="#FFC20E", line_color=None)
leg_rh = p2.scatter(x=[float("nan")], y=[float("nan")], size=8, color="#2B7BBA", line_color=None)
legend = Legend(items=[LegendItem(label=series_labels[0], renderers=[leg_t]),
                       LegendItem(label=series_labels[1], renderers=[leg_rh])],
                location=(432, 174), orientation="horizontal",
                glyph_width=20, glyph_height=20, label_standoff=15, spacing=58,
                padding=0, margin=0, border_line_alpha=0, background_fill_alpha=0,
                label_text_font=FONT, label_text_font_size="46px", label_text_color="black")
p2.add_layout(legend)

left = p2.yaxis[0]
left.ticker = FixedTicker(ticks=temp_ticks)
left.axis_label = "Temperature[°C]"
left.axis_label_standoff = 5
left.major_label_standoff = 2
rh_axis = LinearAxis(y_range_name="rh", ticker=FixedTicker(ticks=rh_ticks), major_label_standoff=2)
p2.add_layout(rh_axis, "right")
p2.xaxis.ticker = FixedTicker(ticks=time_ticks)
p2.xaxis.formatter = NumeralTickFormatter(format="0.00")
p2.xaxis.major_label_standoff = 1
for ax in p2.xaxis + p2.yaxis:
    style_axis(ax)

rh_title = text_panel(24, 283, "Relative Humidity[%]", fx=0.458, fy=0.539)
e_mark = text_panel(20, 283, "e", fx=0.99, fy=0.005, size="100px", angle=0,
                    align="right", baseline="alphabetic")

layout = column(row(p1, cb, cb_title), row(e_mark, p2, rh_title))

with open("out.html", "w") as f:
    f.write(file_html(layout, INLINE))
